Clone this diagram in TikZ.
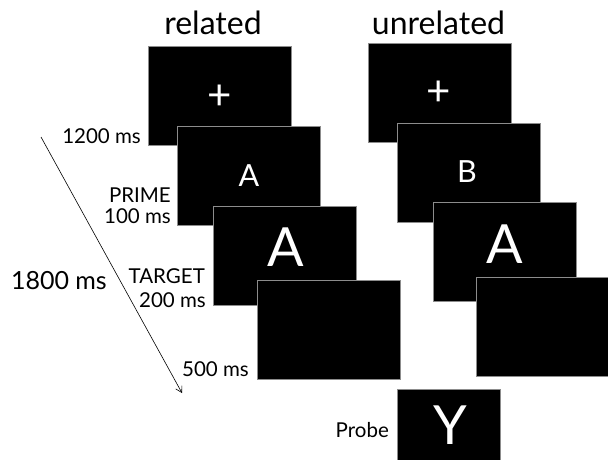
\documentclass[tikz,border=0pt]{standalone}
\usepackage{fontspec}
\setmainfont{Lato}
\usetikzlibrary{arrows.meta}
\begin{document}
\begin{tikzpicture}[x=1pt,y=-1pt,
  screen/.style={fill=black,draw=black!45,line width=0.7pt,inner sep=0pt,
    anchor=north west,minimum width=143pt,minimum height=99pt},
  glyph/.style={text=white,inner sep=0pt,anchor=center},
  small/.style={font=\fontsize{30.5}{34}\selectfont},
  big/.style={font=\fontsize{54}{60}\selectfont},
  plus/.style={font=\fontsize{42}{46}\selectfont},
  lbl/.style={font=\fontsize{20.5}{24}\selectfont,inner sep=0pt,anchor=base east},
  head/.style={font=\fontsize{32}{36}\selectfont,inner sep=0pt,anchor=base},
  timeline/.style={line width=0.6pt,-{Straight Barb[length=6pt,width=7pt]}}]
\clip (0,0) rectangle (608,459);
\fill[white] (0,0) rectangle (608,459);

% column headings
\node[head] (hrel) at (213,34) {related};
\node[head] (hunrel) at (438.5,34) {unrelated};

% related trial
\node[screen] (r1) at (148,46) {};
\node[glyph,plus] (r1t) at (220,97) {+};
\node[screen] (r2) at (177,126) {};
\node[glyph,small] (r2t) at (249,176) {A};
\node[screen] (r3) at (213,206) {};
\node[glyph,big] (r3t) at (285.5,247.5) {A};
\node[screen] (r4) at (257,280) {};

% unrelated trial
\node[screen] (u1) at (368,43) {};
\node[glyph,plus] (u1t) at (439,93) {+};
\node[screen] (u2) at (397,123) {};
\node[glyph,small] (u2t) at (467,171.5) {B};
\node[screen] (u3) at (433,202) {};
\node[glyph,big] (u3t) at (504.5,244) {A};
\node[screen] (u4) at (476,277) {};

% probe screen
\node[screen,minimum width=103pt,minimum height=90pt] (probe) at (397,389) {};
\node[glyph,big] (probet) at (450,425.5) {Y};
\node[lbl] (probel) at (389,437) {Probe};

% durations
\node[lbl] (d1200) at (141,143) {1200 ms};
\node[lbl] (prime) at (171,202) {PRIME};
\node[lbl] (d100) at (171,223) {100 ms};
\node[lbl] (target) at (205,283) {TARGET};
\node[lbl] (d200) at (206,307) {200 ms};
\node[lbl] (d500) at (249,376) {500 ms};
\node[lbl,font=\fontsize{25}{28}\selectfont] (d1800) at (107,289) {1800 ms};

% time axis
\coordinate (tstart) at (41,137);
\coordinate (tend) at (182,393);
\draw[timeline] (tstart) -- (tend);
\end{tikzpicture}
\end{document}
